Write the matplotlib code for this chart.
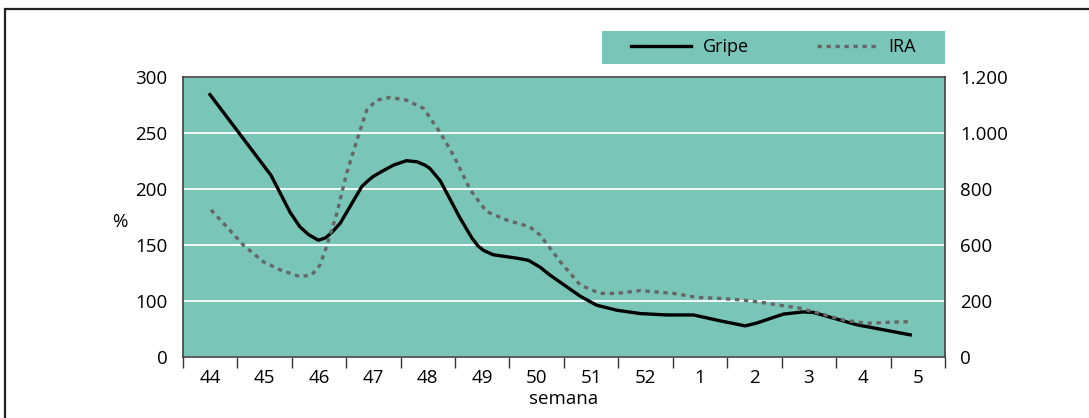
import numpy as np
import matplotlib
matplotlib.use("Agg")
import matplotlib.pyplot as plt
from matplotlib.patches import Rectangle
from matplotlib.lines import Line2D

plt.rcParams['font.family'] = ['Open Sans', 'DejaVu Sans']

# semanas epidemiologicas (categorias del eje x)
weeks = ['44', '45', '46', '47', '48', '49', '50', '51', '52', '1', '2', '3', '4', '5']

# Gripe (%), posicion en semanas desde la 44
gripe_t = [0.0, 1.12, 1.29, 1.47, 1.65, 1.81, 1.99, 2.12, 2.24, 2.39, 2.79, 2.9, 3.0, 3.18, 3.37,
           3.61, 3.80, 3.95, 4.04, 4.23, 4.59, 4.81, 4.92, 5.02, 5.20, 5.63, 5.85, 6.06,
           6.24, 6.80, 7.10, 7.47, 7.90, 8.39, 8.88, 9.37, 9.83, 10.04, 10.53, 10.90,
           11.08, 11.88, 12.86]
gripe_v = [284, 212, 196, 179, 166, 159, 154, 156, 161, 169, 202, 207, 211, 216, 221,
           225, 224, 221, 218, 207, 174, 156, 149, 145, 141, 138, 136, 130,
           123, 104, 92, 83, 77, 74.5, 74.5, 64, 55, 60, 76, 80,
           79, 57, 39]

# IRA (eje derecho)
ira_t = [0.02, 0.25, 0.61, 0.98, 1.29, 1.65, 1.87, 2.02, 2.14, 2.33, 2.51, 2.70, 2.88,
         3.06, 3.31, 3.61, 3.92, 4.23, 4.47, 4.78, 5.08, 5.45, 5.87, 6.06, 6.43,
         6.80, 7.16, 7.47, 7.90, 8.51, 8.94, 9.37, 9.80, 10.16, 10.84, 11.08,
         11.63, 12.06, 12.49, 12.86]
ira_v = [724, 676, 599, 539, 510, 486, 492, 527, 593, 712, 855, 974, 1081,
         1116, 1126, 1116, 1087, 1000, 920, 796, 718, 688, 664, 635, 540,
         456, 426, 426, 436, 426, 412, 408, 402, 386, 346, 321,
         262, 238, 246, 250]

left_ticks = [0, 100, 150, 200, 250, 300]
right_ticks = [0, 400, 600, 800, 1000, 1200]
right_labels = ['0', '200', '600', '800', '1.000', '1.200']

TEAL = '#79c5b8'
FS = 13.5


# eje con tramo 0-100 comprimido (como en el original)
def fwd_left(v):
    v = np.asarray(v, dtype=float)
    return np.where(v < 100, v / 100.0, 1 + (v - 100) / 50.0)


def inv_left(p):
    p = np.asarray(p, dtype=float)
    return np.where(p < 1, p * 100.0, 100 + (p - 1) * 50.0)


def fwd_right(v):
    return fwd_left(np.asarray(v, dtype=float) / 4.0)


def inv_right(p):
    return inv_left(p) * 4.0


fig = plt.figure(figsize=(10.89, 4.18), dpi=100)
ax = fig.add_axes([0.1678, 0.1467, 0.7, 0.6699])
ax.set_facecolor(TEAL)
ax.set_yscale('function', functions=(fwd_left, inv_left))
ax.set_ylim(0, 300)
ax.set_xlim(-0.5, 13.5)

ax.set_yticks(left_ticks)
ax.set_yticklabels([str(t) for t in left_ticks])
ax.yaxis.grid(True, color='white', linewidth=1.3)
ax.set_axisbelow(True)
ax.tick_params(axis='y', length=0, pad=11, labelsize=FS)

ax.set_xticks(range(len(weeks)))
ax.set_xticklabels(weeks)
ax.set_xticks(np.arange(-0.5, len(weeks), 1.0), minor=True)
ax.tick_params(axis='x', which='major', length=0, pad=9, labelsize=FS)
ax.tick_params(axis='x', which='minor', length=8, width=1, color='#333333', direction='out')

for s in ax.spines.values():
    s.set_color('#404040')
    s.set_linewidth(1.2)

ax.plot(gripe_t, gripe_v, color='black', linewidth=2.4, solid_joinstyle='round')

ax2 = ax.twinx()
ax2.set_yscale('function', functions=(fwd_right, inv_right))
ax2.set_ylim(0, 1200)
ax2.set_yticks(right_ticks)
ax2.set_yticklabels(right_labels)
ax2.tick_params(axis='y', length=0, pad=11, labelsize=FS)
for s in ax2.spines.values():
    s.set_visible(False)
ax2.plot(ira_t, ira_v, color='#666666', linewidth=2.4,
         linestyle=(0, (1.3, 1.4)), dash_capstyle='butt')

ax.set_ylabel('%', rotation=0, fontsize=FS, ha='center', va='center')
ax.yaxis.set_label_coords(-0.082, 0.48)
ax.set_xlabel('semana', fontsize=FS, labelpad=2)

# leyenda en caja teal arriba a la derecha
lax = fig.add_axes([602 / 1089, 1 - 64 / 418, 343 / 1089, 33 / 418])
lax.set_facecolor(TEAL)
lax.set_xticks([])
lax.set_yticks([])
for s in lax.spines.values():
    s.set_visible(False)
handles = [Line2D([], [], color='black', linewidth=2.4),
           Line2D([], [], color='#666666', linewidth=2.4, linestyle=(0, (1.3, 1.4)))]
lax.legend(handles, ['Gripe', 'IRA'], loc='center', ncol=2, frameon=False,
           fontsize=13, handlelength=3.3, handletextpad=0.65, columnspacing=3.8)

# marco de la figura
fig.patches.append(Rectangle((5 / 1089, -0.1), 1.2, 409 / 418 + 0.1, transform=fig.transFigure,
                             fill=False, edgecolor='#222222', linewidth=1.6))

fig.savefig('out.png', dpi=100)
